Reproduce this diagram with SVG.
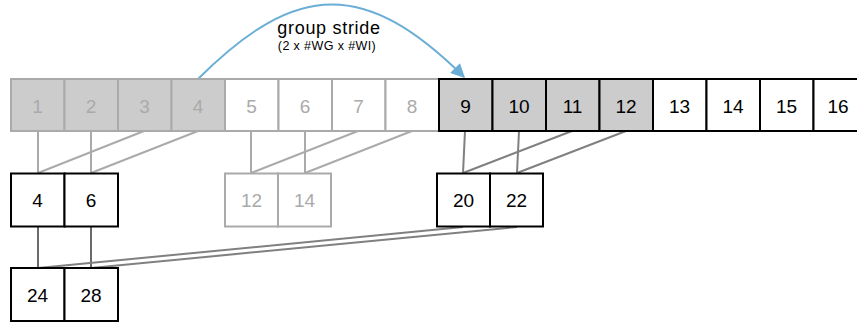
<svg xmlns="http://www.w3.org/2000/svg" width="857" height="323" viewBox="0 0 857 323">
  <style>
    text { font-family: "Liberation Sans", Arial, sans-serif; font-size: 19px; text-anchor: middle; }
    .faded rect { stroke: #aaaaaa; stroke-width: 2; }
    .faded text { fill: #aaaaaa; }
    .solid rect { stroke: #000000; stroke-width: 2; }
    .solid text { fill: #000000; }
    .shaded { fill: #cccccc; }
    .plain { fill: #ffffff; }
    .lnFaded { stroke: #aaaaaa; stroke-width: 2; fill: none; }
    .lnMid { stroke: #808080; stroke-width: 2; fill: none; }
    .lnDark { stroke: #6a6a6a; stroke-width: 2; fill: none; }
    .stride { stroke: #6aaed6; stroke-width: 2; fill: none; }
    .title { font-size: 18px; letter-spacing: 0.7px; }
    .sub { font-size: 12.5px; letter-spacing: 0.4px; }
  </style>
  <defs>
    <marker id="arrowBlue" viewBox="0 0 10 10" refX="9" refY="5" markerWidth="7.5" markerHeight="7" orient="auto" markerUnits="strokeWidth">
      <path d="M0,0 L10,5 L0,10 Z" fill="#6aaed6"/>
    </marker>
  </defs>

  <!-- connectors -->
  <g id="connectors">
    <!-- cells 1-4 to 4,6 -->
    <line class="lnFaded" x1="38" y1="131" x2="38" y2="173"/>
    <line class="lnFaded" x1="91" y1="131" x2="91" y2="173"/>
    <line class="lnFaded" x1="144" y1="131" x2="38" y2="173"/>
    <line class="lnFaded" x1="198" y1="131" x2="91" y2="173"/>
    <!-- cells 5-8 to 12,14 -->
    <line class="lnFaded" x1="251" y1="131" x2="251" y2="173"/>
    <line class="lnFaded" x1="305" y1="131" x2="305" y2="173"/>
    <line class="lnFaded" x1="358" y1="131" x2="251" y2="173"/>
    <line class="lnFaded" x1="412" y1="131" x2="305" y2="173"/>
    <!-- cells 9-12 to 20,22 -->
    <line class="lnMid" x1="465" y1="131" x2="463" y2="173"/>
    <line class="lnMid" x1="519" y1="131" x2="517" y2="173"/>
    <line class="lnMid" x1="572" y1="131" x2="463" y2="173"/>
    <line class="lnMid" x1="626" y1="131" x2="517" y2="173"/>
    <!-- second level to 24,28 -->
    <line class="lnDark" x1="38" y1="227" x2="38" y2="268"/>
    <line class="lnDark" x1="91" y1="227" x2="91" y2="268"/>
    <line class="lnMid" x1="463" y1="227" x2="38" y2="268"/>
    <line class="lnMid" x1="517" y1="227" x2="91" y2="268"/>
    <!-- group stride arc -->
    <path class="stride" d="M198,79 C297,-20 366,-20 464,77" marker-end="url(#arrowBlue)"/>
  </g>

  <!-- stride label -->
  <g id="strideLabel">
    <text class="title" x="329" y="34">group stride</text>
    <text class="sub" x="327" y="50">(2 x #WG x #WI)</text>
  </g>

  <!-- input row -->
  <g id="row0">
    <g id="c1" class="faded"><rect class="shaded" x="11" y="79" width="53.5" height="52"/><text x="37.5" y="112.5">1</text></g>
    <g id="c2" class="faded"><rect class="shaded" x="64.5" y="79" width="53.5" height="52"/><text x="91" y="112.5">2</text></g>
    <g id="c3" class="faded"><rect class="shaded" x="118" y="79" width="53.5" height="52"/><text x="144.5" y="112.5">3</text></g>
    <g id="c4" class="faded"><rect class="shaded" x="171.5" y="79" width="53.5" height="52"/><text x="198" y="112.5">4</text></g>
    <g id="c5" class="faded"><rect class="plain" x="225" y="79" width="53.5" height="52"/><text x="251.5" y="112.5">5</text></g>
    <g id="c6" class="faded"><rect class="plain" x="278.5" y="79" width="53.5" height="52"/><text x="305" y="112.5">6</text></g>
    <g id="c7" class="faded"><rect class="plain" x="332" y="79" width="53.5" height="52"/><text x="358.5" y="112.5">7</text></g>
    <g id="c8" class="faded"><rect class="plain" x="385.5" y="79" width="53.5" height="52"/><text x="412" y="112.5">8</text></g>
    <g id="c9" class="solid"><rect class="shaded" x="439" y="79" width="53.5" height="52"/><text x="465.5" y="112.5">9</text></g>
    <g id="c10" class="solid"><rect class="shaded" x="492.5" y="79" width="53.5" height="52"/><text x="519" y="112.5">10</text></g>
    <g id="c11" class="solid"><rect class="shaded" x="546" y="79" width="53.5" height="52"/><text x="572.5" y="112.5">11</text></g>
    <g id="c12" class="solid"><rect class="shaded" x="599.5" y="79" width="53.5" height="52"/><text x="626" y="112.5">12</text></g>
    <g id="c13" class="solid"><rect class="plain" x="653" y="79" width="53.5" height="52"/><text x="679.5" y="112.5">13</text></g>
    <g id="c14" class="solid"><rect class="plain" x="706.5" y="79" width="53.5" height="52"/><text x="733" y="112.5">14</text></g>
    <g id="c15" class="solid"><rect class="plain" x="760" y="79" width="53.5" height="52"/><text x="786.5" y="112.5">15</text></g>
    <g id="c16" class="solid"><rect class="plain" x="813.5" y="79" width="53.5" height="52"/><text x="838" y="112.5">16</text></g>
  </g>

  <!-- first reduction -->
  <g id="row1">
    <g id="s4" class="solid"><rect class="plain" x="11" y="173.5" width="53.5" height="53"/><text x="37.5" y="207">4</text></g>
    <g id="s6" class="solid"><rect class="plain" x="64.5" y="173.5" width="53.5" height="53"/><text x="91" y="207">6</text></g>
    <g id="s12" class="faded"><rect class="plain" x="225" y="173.5" width="53" height="53"/><text x="251.5" y="207">12</text></g>
    <g id="s14" class="faded"><rect class="plain" x="278" y="173.5" width="53" height="53"/><text x="304.5" y="207">14</text></g>
    <g id="s20" class="solid"><rect class="plain" x="437" y="173.5" width="53" height="53"/><text x="463.5" y="207">20</text></g>
    <g id="s22" class="solid"><rect class="plain" x="490" y="173.5" width="53" height="53"/><text x="516.5" y="207">22</text></g>
  </g>

  <!-- second reduction -->
  <g id="row2">
    <g id="t24" class="solid"><rect class="plain" x="11" y="268" width="53.5" height="53"/><text x="37.5" y="302">24</text></g>
    <g id="t28" class="solid"><rect class="plain" x="64.5" y="268" width="53.5" height="53"/><text x="91" y="302">28</text></g>
  </g>
</svg>
